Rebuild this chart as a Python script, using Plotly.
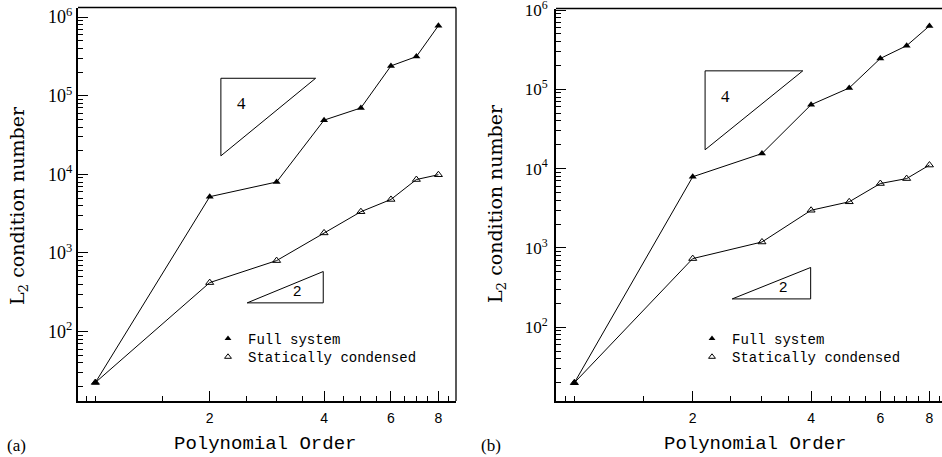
import math
import plotly.graph_objects as go

# Polynomial order (shared by both panels)
orders = [1, 2, 3, 4, 5, 6, 7, 8]

# Panel (a): L2 condition numbers
full_a = [22.5, 5200, 8000, 49000, 70000, 240000, 315000, 780000]
cond_a = [22.5, 420, 800, 1800, 3350, 4800, 8600, 9900]

# Panel (b): L2 condition numbers
full_b = [20, 7900, 15500, 64000, 104000, 245000, 355000, 630000]
cond_b = [20, 735, 1190, 2990, 3820, 6500, 7500, 11100]

# Slope indicator triangles: [x_left, x_right], [y_low, y_high]
slope4_a_x, slope4_a_y = [2.14, 3.80], [1.72e4, 1.67e5]
slope2_a_x, slope2_a_y = [2.51, 3.98], [232, 581]
slope4_b_x, slope4_b_y = [2.15, 3.81], [1.73e4, 1.71e5]
slope2_b_x, slope2_b_y = [2.52, 3.99], [228, 568]

# Axis ticks
x_major = [2, 4, 6, 8]
x_minor = [0.95, 1, 1.5, 2.5, 3, 3.5, 4.5, 5, 5.5, 6.5, 7, 7.5, 8.5]
y_major = [1e2, 1e3, 1e4, 1e5, 1e6]
y_major_text = ["10<sup>2</sup>", "10<sup>3</sup>", "10<sup>4</sup>",
                "10<sup>5</sup>", "10<sup>6</sup>"]
y_minor = [m * 10 ** k for k in range(1, 6) for m in range(2, 10)]

series_names = ["Full system", "Statically condensed"]

W, H = 942, 457
SERIF = "Liberation Serif"
MONO = "Liberation Mono"
SANS = "Liberation Sans"

fig = go.Figure()


def px_x(p):
    return p / W


def px_y(p):
    return 1 - p / H


full_marker = dict(symbol="triangle-up", size=7, color="black")
cond_marker = dict(symbol="triangle-up-open", size=7, color="black",
                   line=dict(width=1, color="black"))

panels = [
    dict(xa="x", ya="y", legends=("legend", "legend2"), full=full_a, cond=cond_a,
         s4x=slope4_a_x, s4y=slope4_a_y, s2x=slope2_a_x, s2y=slope2_a_y),
    dict(xa="x2", ya="y2", legends=("legend3", "legend4"), full=full_b, cond=cond_b,
         s4x=slope4_b_x, s4y=slope4_b_y, s2x=slope2_b_x, s2y=slope2_b_y),
]

line_style = dict(color="black", width=1)
for p in panels:
    fig.add_trace(go.Scatter(
        x=orders, y=p["full"], xaxis=p["xa"], yaxis=p["ya"], mode="lines+markers",
        line=line_style, marker=full_marker, showlegend=False, hoverinfo="skip"))
    fig.add_trace(go.Scatter(
        x=orders, y=p["cond"], xaxis=p["xa"], yaxis=p["ya"], mode="lines+markers",
        line=line_style, marker=cond_marker, showlegend=False, hoverinfo="skip"))
    # legend entries (symbols only), one legend box per entry
    for name, mk, lg in zip(series_names, (full_marker, cond_marker), p["legends"]):
        fig.add_trace(go.Scatter(
            x=[None], y=[None], xaxis=p["xa"], yaxis=p["ya"], mode="markers",
            marker=dict(mk, size=6), name=name, legend=lg))
    # slope 4 triangle: right angle at top-left
    x0, x1 = p["s4x"]
    y0, y1 = p["s4y"]
    fig.add_trace(go.Scatter(
        x=[x0, x1, x0, x0], y=[y1, y1, y0, y1], xaxis=p["xa"], yaxis=p["ya"],
        mode="lines", line=dict(color="black", width=1), showlegend=False,
        hoverinfo="skip"))
    fig.add_annotation(x=math.log10(x0 * 1.13), y=math.log10(y0) + 0.68 * math.log10(y1 / y0),
                       xref=p["xa"], yref=p["ya"], text="4", showarrow=False,
                       xanchor="center", yanchor="middle",
                       font=dict(family=SERIF, size=17, color="black"))
    # slope 2 triangle: right angle at bottom-right
    x0, x1 = p["s2x"]
    y0, y1 = p["s2y"]
    fig.add_trace(go.Scatter(
        x=[x0, x1, x1, x0], y=[y0, y0, y1, y0], xaxis=p["xa"], yaxis=p["ya"],
        mode="lines", line=dict(color="black", width=1), showlegend=False,
        hoverinfo="skip"))
    fig.add_annotation(x=math.log10(3.40), y=math.log10(y0) + 0.38 * math.log10(y1 / y0),
                       xref=p["xa"], yref=p["ya"], text="2", showarrow=False,
                       xanchor="center", yanchor="middle",
                       font=dict(family=SANS, size=15, color="black"))

axis_common = dict(
    type="log", showgrid=False, zeroline=False, showline=True, linecolor="black",
    linewidth=2, ticks="inside", tickcolor="black", tickwidth=1, ticklen=10,
    ticklabeloverflow="allow", automargin=False,
)

xaxis_common = dict(
    axis_common, tickvals=x_major, ticktext=[str(v) for v in x_major],
    tickfont=dict(family=SANS, size=14, color="black"), ticklabelstandoff=3,
    minor=dict(tickvals=x_minor, ticks="inside", ticklen=5, tickcolor="black", tickwidth=1),
)
yaxis_common = dict(
    axis_common, tickvals=y_major, ticktext=y_major_text,
    tickfont=dict(family=SERIF, size=18, color="black"),
    minor=dict(tickvals=y_minor, ticks="inside", ticklen=5, tickcolor="black", tickwidth=1),
)

# panel frames in pixels
a_l, a_r, a_t, a_b = 78, 456, 7.5, 401
b_l, b_r, b_t, b_b = 556, 942, 8.5, 401


def legend_box(x, y):
    return dict(x=px_x(x), y=px_y(y), xanchor="left", yanchor="top",
                bgcolor="rgba(0,0,0,0)", font=dict(family=MONO, size=14, color="black"),
                tracegroupgap=0, itemsizing="trace")


fig.update_layout(
    width=W, height=H, margin=dict(l=0, r=0, t=0, b=0, pad=0, autoexpand=False),
    paper_bgcolor="white", plot_bgcolor="white",
    xaxis=dict(xaxis_common, domain=[px_x(a_l), px_x(a_r)], anchor="y",
               range=[math.log10(0.9), math.log10(8.9)]),
    yaxis=dict(yaxis_common, domain=[px_y(a_b), px_y(a_t)], anchor="x",
               range=[1.117, 6.123], ticklabelstandoff=0),
    xaxis2=dict(xaxis_common, domain=[px_x(b_l), px_x(b_r)], anchor="y2",
                range=[math.log10(0.898), 0.935]),
    yaxis2=dict(yaxis_common, domain=[px_y(b_b), px_y(b_t)], anchor="x2",
                range=[1.071, 6.019], ticklabelstandoff=3,
                tickfont=dict(family=SERIF, size=17, color="black")),
    legend=legend_box(208, 322.8),
    legend2=legend_box(208, 341.2),
    legend3=legend_box(692, 322.8),
    legend4=legend_box(692, 341.2),
    showlegend=True,
)

# thin top and right frame lines
for (l, r, t, b, right) in [(a_l, a_r, a_t, a_b, True), (b_l, b_r, b_t, b_b, False)]:
    fig.add_shape(type="line", xref="paper", yref="paper",
                  x0=px_x(l), x1=px_x(r), y0=px_y(t), y1=px_y(t),
                  line=dict(color="black", width=1.3))
    if right:
        fig.add_shape(type="line", xref="paper", yref="paper",
                      x0=px_x(r), x1=px_x(r), y0=px_y(t), y1=px_y(b),
                      line=dict(color="black", width=1.3))

# axis titles and panel labels
for cx, ylab_x, ylab_y, tag_x, tag in [(265, 18, 206, 16, "(a)"), (755, 497, 204, 491, "(b)")]:
    fig.add_annotation(x=px_x(cx), y=px_y(444), xref="paper", yref="paper",
                       text="Polynomial Order", showarrow=False,
                       xanchor="center", yanchor="middle",
                       font=dict(family=MONO, size=19, color="black"))
    fig.add_annotation(x=px_x(ylab_x), y=px_y(ylab_y), xref="paper", yref="paper",
                       text="L<sub>2</sub> condition number", textangle=-90,
                       xanchor="center", yanchor="middle",
                       showarrow=False, font=dict(family="DejaVu Serif", size=19, color="black"))
    fig.add_annotation(x=px_x(tag_x), y=px_y(445), xref="paper", yref="paper",
                       text=tag, showarrow=False, xanchor="center", yanchor="middle",
                       font=dict(family=SERIF, size=17, color="black"))

fig.write_html("out.html")
